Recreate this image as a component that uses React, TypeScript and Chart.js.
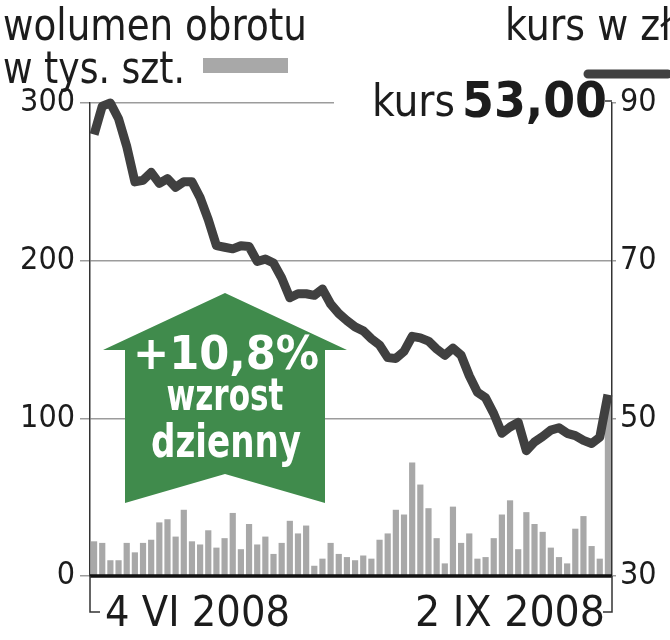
import React, { useEffect, useRef } from "react";
import { Chart, registerables } from "chart.js";

Chart.register(...registerables);

// ---- data ----
const volumes: number[] = [
  22, 21, 10, 10, 21, 15, 21, 23, 34, 36, 25, 42, 22, 20, 29, 18,
  24, 40, 17, 33, 20, 25, 14, 21, 35, 27, 32, 6.5, 11, 21, 14, 12,
  10, 13, 11, 23, 27, 42, 39, 72, 58, 43, 24, 8, 44, 21, 27, 11,
  12, 24, 39, 48, 17, 40.5, 33, 28, 18, 12, 8, 30, 38, 19, 11, 110,
];
const prices: number[] = [
  86, 89.6, 90, 88, 84.5, 80, 80.2, 81.2, 79.8, 80.4,
  79.3, 80, 80, 78, 75.2, 71.9, 71.7, 71.5, 71.9, 71.8,
  69.9, 70.2, 69.7, 67.8, 65.3, 65.8, 65.8, 65.6, 66.4, 64.5,
  63.3, 62.4, 61.6, 61.1, 60.1, 59.3, 57.7, 57.6, 58.5, 60.4,
  60.2, 59.8, 58.8, 58, 58.9, 58, 55.4, 53.3, 52.6, 50.6,
  48.1, 48.9, 49.5, 45.9, 47, 47.7, 48.5, 48.8, 48.1, 47.8,
  47.2, 46.8, 47.6, 53,
];
const dateLabels: string[] = ["4 VI 2008", "2 IX 2008"];
const volumeTicks: number[] = [0, 100, 200, 300];
const priceTicks: number[] = [30, 50, 70, 90];
const volumeTitle: string[] = ["wolumen obrotu", "w tys. szt."];
const priceTitle = "kurs w zł";
const lastPriceLabel = "kurs";
const lastPriceValue = "53,00";
const badgeLines: string[] = ["+10,8%", "wzrost", "dzienny"];

const categories = volumes.map((_, i) => (i === 0 ? dateLabels[0] : i === volumes.length - 1 ? dateLabels[1] : ""));

const NARROW = '"Liberation Sans Narrow", "DejaVu Sans Condensed", sans-serif';
const TEXT = "#1c1c1c";
const AXIS = "#333333";
const GRID = "#9c9c9c";
const BAR = "#a8a8a8";
const LINE = "#404040";
const GREEN = "#408b4c";

function drawFit(
  ctx: CanvasRenderingContext2D,
  text: string,
  x: number,
  y: number,
  font: string,
  width: number,
  align: "left" | "center" | "right",
  color: string
) {
  ctx.save();
  ctx.font = font;
  ctx.fillStyle = color;
  ctx.textBaseline = "alphabetic";
  ctx.textAlign = "left";
  const w = ctx.measureText(text).width;
  const sx = width / w;
  const left = align === "left" ? x : align === "center" ? x - width / 2 : x - width;
  ctx.translate(left, y);
  ctx.scale(sx, 1);
  ctx.fillText(text, 0, 0);
  ctx.restore();
}

const decorPlugin = {
  id: "decor",
  beforeDatasetsDraw(chart: any) {
    const ctx: CanvasRenderingContext2D = chart.ctx;
    const cx = 225;
    ctx.save();
    ctx.fillStyle = GREEN;
    ctx.beginPath();
    ctx.moveTo(cx, 293);
    ctx.lineTo(cx + 122, 350);
    ctx.lineTo(cx + 100, 350);
    ctx.lineTo(cx + 100, 503);
    ctx.lineTo(cx, 474);
    ctx.lineTo(cx - 100, 503);
    ctx.lineTo(cx - 100, 350);
    ctx.lineTo(cx - 122, 350);
    ctx.closePath();
    ctx.fill();
    ctx.restore();
    drawFit(ctx, badgeLines[0], cx + 1, 369, `bold 46px ${NARROW}`, 186, "center", "#ffffff");
    drawFit(ctx, badgeLines[1], cx, 410, `bold 45px ${NARROW}`, 117, "center", "#ffffff");
    drawFit(ctx, badgeLines[2], cx + 1, 457, `bold 46px ${NARROW}`, 150, "center", "#ffffff");
  },
  afterDatasetsDraw(chart: any) {
    const ctx: CanvasRenderingContext2D = chart.ctx;
    const ca = chart.chartArea;
    const y0 = chart.scales.yVol.getPixelForValue(0);
    ctx.save();
    ctx.strokeStyle = "#111111";
    ctx.lineWidth = 3.5;
    ctx.beginPath();
    ctx.moveTo(ca.left, y0);
    ctx.lineTo(ca.right, y0);
    ctx.stroke();
    ctx.strokeStyle = AXIS;
    ctx.lineWidth = 1.5;
    ctx.beginPath();
    ctx.moveTo(ca.left, y0);
    ctx.lineTo(ca.left, 612);
    ctx.lineTo(ca.left + 10, 612);
    ctx.moveTo(ca.right, y0);
    ctx.lineTo(ca.right, 612);
    ctx.lineTo(ca.right - 9, 612);
    ctx.stroke();
    ctx.restore();
  },
  afterDraw(chart: any) {
    const ctx: CanvasRenderingContext2D = chart.ctx;
    const ca = chart.chartArea;
    ctx.save();
    ctx.fillStyle = "#ffffff";
    ctx.fillRect(334, 80, ca.right - 335, 40);
    ctx.strokeStyle = AXIS;
    ctx.lineWidth = 1.5;
    ctx.beginPath();
    ctx.moveTo(ca.right - 7, ca.top - 2);
    ctx.lineTo(ca.right, ca.top - 2);
    ctx.stroke();
    ctx.restore();

    drawFit(ctx, volumeTitle[0], 3, 40, `45px ${NARROW}`, 304, "left", TEXT);
    drawFit(ctx, volumeTitle[1], 3, 83, `45px ${NARROW}`, 182, "left", TEXT);
    drawFit(ctx, priceTitle, 505, 40, `45px ${NARROW}`, 166, "left", TEXT);
    ctx.save();
    ctx.fillStyle = BAR;
    ctx.fillRect(203, 58, 85, 15);
    ctx.strokeStyle = LINE;
    ctx.lineWidth = 9;
    ctx.lineCap = "round";
    ctx.beginPath();
    ctx.moveTo(588, 74);
    ctx.lineTo(668, 74);
    ctx.stroke();
    ctx.restore();
    drawFit(ctx, lastPriceLabel, 372, 116, `45px ${NARROW}`, 83, "left", TEXT);
    drawFit(ctx, lastPriceValue, 462, 117, `bold 50px ${NARROW}`, 145, "left", TEXT);
    drawFit(ctx, dateLabels[0], 105, 626, `43px ${NARROW}`, 185, "left", TEXT);
    drawFit(ctx, dateLabels[1], ca.right - 7, 626, `43px ${NARROW}`, 190, "right", TEXT);
  },
};

export default function App() {
  const ref = useRef<HTMLCanvasElement | null>(null);
  useEffect(() => {
    if (!ref.current) return;
    const chart = new Chart(ref.current, {
      type: "bar",
      data: {
        labels: categories,
        datasets: [
          {
            type: "line",
            label: priceTitle,
            data: prices,
            yAxisID: "yPrice",
            borderColor: LINE,
            borderWidth: 9,
            borderJoinStyle: "round",
            borderCapStyle: "butt",
            pointRadius: 0,
            tension: 0,
            clip: false,
            order: 0,
          } as any,
          {
            type: "bar",
            label: volumeTitle.join(" "),
            data: volumes,
            yAxisID: "yVol",
            backgroundColor: BAR,
            barPercentage: 0.76,
            categoryPercentage: 1,
            order: 1,
          },
        ],
      },
      options: {
        responsive: false,
        animation: false,
        events: [],
        layout: { padding: { top: 103, bottom: 64, left: 0, right: 0 } },
        plugins: { legend: { display: false }, tooltip: { enabled: false } },
        scales: {
          x: { type: "category", display: false, offset: true },
          yVol: {
            type: "linear",
            position: "left",
            min: 0,
            max: 300,
            afterFit: (s: any) => {
              s.width = 90;
            },
            afterBuildTicks: (s: any) => {
              s.ticks = volumeTicks.map((v) => ({ value: v }));
            },
            ticks: {
              font: { family: NARROW, size: 32 },
              color: TEXT,
              padding: 5,
            },
            grid: { color: GRID, lineWidth: 1.5, tickLength: 10, drawTicks: true },
            border: { display: true, color: AXIS, width: 1.5 },
          },
          yPrice: {
            type: "linear",
            position: "right",
            min: 30,
            max: 90,
            afterFit: (s: any) => {
              s.width = 58;
            },
            afterBuildTicks: (s: any) => {
              s.ticks = priceTicks.map((v) => ({ value: v }));
            },
            ticks: {
              font: { family: NARROW, size: 32 },
              color: TEXT,
              padding: 4,
            },
            grid: { drawOnChartArea: false, color: GRID, lineWidth: 1.5, tickLength: 4, drawTicks: true },
            border: { display: true, color: AXIS, width: 1.5 },
          },
        },
      },
      plugins: [decorPlugin],
    });
    return () => chart.destroy();
  }, []);
  return (
    <div style={{ position: "absolute", left: 0, top: 0, width: 670, height: 640, background: "#fff" }}>
      <canvas ref={ref} width={670} height={640} style={{ width: 670, height: 640, display: "block" }} />
    </div>
  );
}
